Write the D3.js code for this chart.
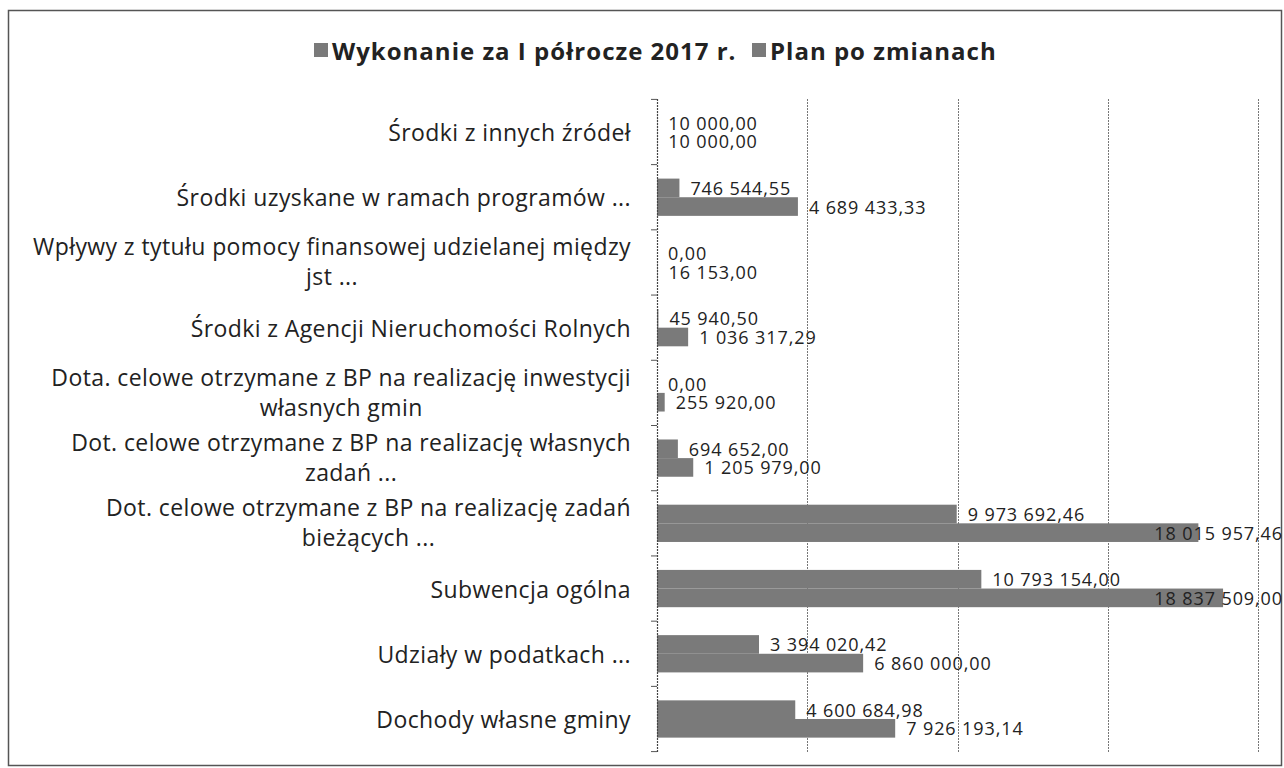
<!DOCTYPE html>
<html><head><meta charset="utf-8">
<script src="https://cdn.jsdelivr.net/npm/d3@7"></script>
<style>
body{margin:0;background:#fff;}
svg{display:block;}
text{font-family:"Open Sans",Lato,sans-serif;fill:#222;}
</style></head>
<body><svg id="c" width="1284" height="768"></svg>
<script>
const categories = [
  ["Środki z innych źródeł"],
  ["Środki uzyskane w ramach programów ..."],
  ["Wpływy z tytułu pomocy finansowej udzielanej między", "jst ..."],
  ["Środki z Agencji Nieruchomości Rolnych"],
  ["Dota. celowe otrzymane z BP na realizację inwestycji", "własnych gmin"],
  ["Dot. celowe otrzymane z BP na realizację własnych", "zadań ..."],
  ["Dot. celowe otrzymane z BP na realizację zadań", "bieżących ..."],
  ["Subwencja ogólna"],
  ["Udziały w podatkach ..."],
  ["Dochody własne gminy"]
];
const seriesNames = ["Wykonanie za I półrocze 2017 r.", "Plan po zmianach"];
const wykonanie = [10000.00, 746544.55, 0.00, 45940.50, 0.00, 694652.00, 9973692.46, 10793154.00, 3394020.42, 4600684.98];
const plan = [10000.00, 4689433.33, 16153.00, 1036317.29, 255920.00, 1205979.00, 18015957.46, 18837509.00, 6860000.00, 7926193.14];
const xTicks = [0, 5000000, 10000000, 15000000, 20000000];

const svg = d3.select("#c");
const barColor = "#7a7a7a";

// frame
svg.append("rect").attr("x", 8.5).attr("y", 10.5).attr("width", 1273).attr("height", 755)
  .attr("fill", "none").attr("stroke", "#555").attr("stroke-width", 1.5);

const x = d3.scaleLinear().domain([0, 20000000]).range([657, 1258]);
const y = d3.scaleBand().domain(d3.range(categories.length)).range([99.4, 751.6]).paddingInner(0).paddingOuter(0);
const bw = y.bandwidth();
const barH = bw / 3.5;

// gridlines
svg.append("g").selectAll("line").data(xTicks.slice(1)).join("line")
  .attr("x1", d => Math.round(x(d)) + 0.5).attr("x2", d => Math.round(x(d)) + 0.5)
  .attr("y1", 99).attr("y2", 752)
  .attr("stroke", "#777").attr("stroke-width", 1).attr("stroke-dasharray", "2,1");

const fmt = v => {
  const s = v.toFixed(2).split(".");
  return s[0].replace(/\B(?=(\d{3})+(?!\d))/g, "\u00a0") + "," + s[1];
};
const series = [wykonanie, plan];
series.forEach((vals, si) => {
  svg.append("g").selectAll("rect").data(vals).join("rect")
    .attr("x", x(0))
    .attr("y", (d, i) => y(i) + bw / 2 - barH + si * barH)
    .attr("width", d => x(d) - x(0))
    .attr("height", barH)
    .attr("fill", barColor);
});

// value labels
series.forEach((vals, si) => {
  svg.append("g").selectAll("text").data(vals).join("text")
    .attr("y", (d, i) => y(i) + bw / 2 - barH / 2 + si * barH)
    .attr("dominant-baseline", "central")
    .attr("font-size", 18)
    .attr("letter-spacing", 0.9)
    .attr("fill", "#333")
    .text(d => fmt(d))
    .each(function(d) {
      const w = this.getComputedTextLength();
      let tx = x(d) + 11;
      if (tx + w > 1283) tx = 1283 - w;
      d3.select(this).attr("x", tx);
    });
});

// axis line + ticks
svg.append("line").attr("x1", 657.5).attr("x2", 657.5).attr("y1", 99).attr("y2", 752)
  .attr("stroke", "#444").attr("stroke-width", 1.2).attr("stroke-dasharray", "2,1");
svg.append("g").selectAll("line").data(d3.range(categories.length + 1)).join("line")
  .attr("x1", 651).attr("x2", 657)
  .attr("y1", i => 99.4 + i * bw).attr("y2", i => 99.4 + i * bw)
  .attr("stroke", "#555").attr("stroke-width", 1);

// category labels (multi-line labels: each line centred on the first line's centre)
const cg = svg.append("g").attr("font-size", 23).attr("letter-spacing", 0.4);
const labelRight = 631;
categories.forEach((lines, i) => {
  const cy = y(i) + bw / 2;
  if (lines.length === 1) {
    cg.append("text").attr("x", labelRight).attr("y", cy).attr("text-anchor", "end")
      .attr("dominant-baseline", "central").text(lines[0]);
  } else {
    const t1 = cg.append("text").attr("x", labelRight).attr("y", cy - 16).attr("text-anchor", "end")
      .attr("dominant-baseline", "central").text(lines[0]);
    const w1 = t1.node().getComputedTextLength();
    cg.append("text").attr("x", labelRight - w1 / 2).attr("y", cy + 14).attr("text-anchor", "middle")
      .attr("dominant-baseline", "central").text(lines[1]);
  }
});

// legend
const lg = svg.append("g");
const legX = [314, 752];
seriesNames.forEach((n, i) => {
  lg.append("rect").attr("x", legX[i]).attr("y", 43).attr("width", 14).attr("height", 14).attr("fill", barColor);
  lg.append("text").attr("x", legX[i] + 18).attr("y", 50).attr("dominant-baseline", "central")
    .attr("font-size", 24).attr("letter-spacing", 1).attr("font-weight", "bold").text(n);
});
</script></body></html>
